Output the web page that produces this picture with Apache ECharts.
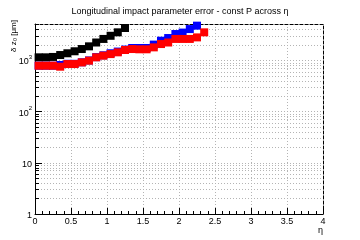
<!DOCTYPE html>
<html>
<head>
<meta charset="utf-8">
<script src="https://cdn.jsdelivr.net/npm/echarts@6/dist/echarts.min.js"></script>
<style>
  html, body { margin: 0; padding: 0; background: #fff; }
  #container { width: 360px; height: 240px; }
</style>
</head>
<body>
<div id="container"></div>
<script>
// eta bin centres and sigma(z0) in um
let etaBlack = [0.05, 0.15, 0.25, 0.35, 0.45, 0.55, 0.65, 0.75, 0.85, 0.95, 1.05, 1.15, 1.25];
let black = [1150, 1150, 1170, 1275, 1380, 1510, 1670, 1885, 2240, 2630, 3030, 3540, 4300];

let etaBlue = [0.05, 0.15, 0.25, 0.35, 0.45, 0.55, 0.65, 0.75, 0.85, 0.95, 1.05, 1.15,
  1.25, 1.35, 1.45, 1.55, 1.65, 1.75, 1.85, 1.95, 2.05, 2.15, 2.25];
let blue = [790, 790, 790, 815, 860, 860, 920, 1000, 1160, 1260, 1380, 1490,
  1630, 1750, 1750, 1750, 2040, 2430, 2740, 3280, 3500, 4100, 4780];

let etaRed = [0.05, 0.15, 0.25, 0.35, 0.45, 0.55, 0.65, 0.75, 0.85, 0.95, 1.05, 1.15,
  1.25, 1.35, 1.45, 1.55, 1.65, 1.75, 1.85, 1.95, 2.05, 2.15, 2.25, 2.35];
let red = [790, 790, 790, 755, 850, 850, 915, 990, 1150, 1240, 1330, 1440,
  1600, 1670, 1650, 1650, 1800, 2090, 2240, 2630, 2630, 2630, 2820, 3540];

let yMajor = [1, 10, 100, 1000];
let yMinor = [2, 3, 4, 5, 6, 7, 8, 9, 20, 30, 40, 50, 60, 70, 80, 90,
  200, 300, 400, 500, 600, 700, 800, 900, 2000, 3000, 4000, 5000];
let yMax = 5150;

let font = 'Liberation Sans';
let gridColor = '#b4b4b4';

function pairs(xs, ys) {
  return xs.map((x, i) => [x, ys[i]]);
}

var myChart = echarts.init(document.getElementById('container'));

let option = {
  animation: false,
  backgroundColor: '#fff',
  textStyle: { fontFamily: font },
  title: {
    text: 'Longitudinal impact parameter error - const P across \u03b7',
    left: 'center',
    top: 2,
    textStyle: { fontFamily: font, fontSize: 9, fontWeight: 'normal', color: '#000' },
  },
  grid: { left: 35, right: 37, top: 24, bottom: 26 },
  xAxis: [
    {
      type: 'value',
      min: 0,
      max: 4,
      interval: 0.5,
      position: 'bottom',
      axisLine: { lineStyle: { color: '#000', width: 1 } },
      axisTick: { inside: true, length: 6, lineStyle: { color: '#000' } },
      minorTick: { show: true, splitNumber: 5, length: 3, lineStyle: { color: '#000' } },
      splitLine: { show: true, lineStyle: { color: gridColor, type: [1, 2] } },
      axisLabel: { color: '#000', fontSize: 9, margin: 3, formatter: (v) => String(v) },
    },
    {
      type: 'value',
      min: 0,
      max: 4,
      position: 'top',
      axisLine: { lineStyle: { color: '#000', type: [3, 2] } },
      axisTick: { show: false },
      axisLabel: { show: false },
      splitLine: { show: false },
    },
  ],
  yAxis: [
    {
      type: 'log',
      logBase: 10,
      min: 1,
      max: yMax,
      position: 'left',
      axisLine: { show: true, lineStyle: { color: '#000', width: 1 } },
      axisTick: { inside: true, length: 7, customValues: yMajor, lineStyle: { color: '#000' } },
      splitLine: { show: true, lineStyle: { color: gridColor, type: [1, 2] } },
      axisLabel: {
        customValues: yMajor,
        color: '#000',
        fontSize: 9,
        margin: 3,
        formatter: (v) => {
          if (v < 50) return '{n|' + Math.round(v) + '}';
          return '{n|10}{s|' + Math.round(Math.log10(v)) + '}';
        },
        rich: {
          n: { fontSize: 9, fontFamily: font, color: '#000', lineHeight: 12, verticalAlign: 'bottom' },
          s: { fontSize: 6, fontFamily: font, color: '#000', lineHeight: 12, verticalAlign: 'top' },
        },
      },
    },
    {
      type: 'log',
      logBase: 10,
      min: 1,
      max: yMax,
      position: 'left',
      axisLine: { show: false },
      axisTick: { inside: true, length: 4, customValues: yMinor, lineStyle: { color: '#000' } },
      splitLine: { show: true, lineStyle: { color: gridColor, type: [1, 2] } },
      axisLabel: { show: false },
    },
    {
      type: 'log',
      logBase: 10,
      min: 1,
      max: yMax,
      position: 'right',
      axisLine: { show: true, lineStyle: { color: '#000', type: [3, 2] } },
      axisTick: { show: false },
      axisLabel: { show: false },
      splitLine: { show: false },
    },
  ],
  graphic: [
    {
      type: 'text',
      x: 10,
      y: 36,
      rotation: Math.PI / 2,
      style: {
        text: '\u03b4 z\u2080 [\u03bcm]',
        font: '8px ' + font,
        fill: '#000',
        textAlign: 'center',
        textVerticalAlign: 'top',
      },
    },
    {
      type: 'text',
      x: 323,
      y: 226,
      style: {
        text: '\u03b7',
        font: '9px ' + font,
        fill: '#000',
        textAlign: 'right',
      },
    },
  ],
  series: [
    {
      name: 'black',
      type: 'scatter',
      symbol: 'rect',
      symbolSize: 8,
      itemStyle: { color: '#000', opacity: 1 },
      data: pairs(etaBlack, black),
    },
    {
      name: 'blue',
      type: 'scatter',
      symbol: 'rect',
      symbolSize: 8,
      itemStyle: { color: '#0000ff', opacity: 1 },
      data: pairs(etaBlue, blue),
    },
    {
      name: 'red',
      type: 'scatter',
      symbol: 'rect',
      symbolSize: 8,
      itemStyle: { color: '#ff0000', opacity: 1 },
      data: pairs(etaRed, red),
    },
  ],
};

myChart.setOption(option);
</script>
</body>
</html>
